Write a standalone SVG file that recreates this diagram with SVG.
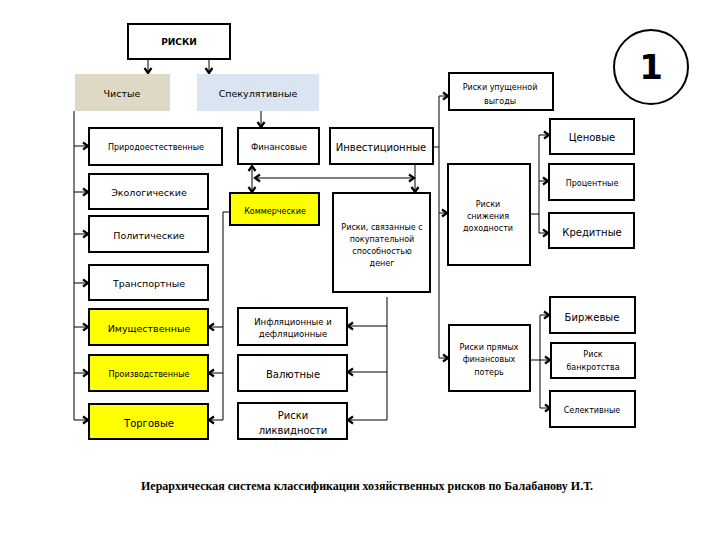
<svg xmlns="http://www.w3.org/2000/svg" width="720" height="540" viewBox="0 0 720 540">
<style>
.b{fill:#fff;stroke:#000;stroke-width:2}
.y{fill:#ffff00;stroke:#000;stroke-width:2}
text{font-family:"DejaVu Sans","Verdana",sans-serif;font-weight:normal;fill:#000;text-anchor:middle;dominant-baseline:central}
text.bd{font-weight:bold}
text.t{font-family:"Liberation Serif","Times New Roman",serif;font-weight:bold}
.c line,.c polyline{stroke:#000;stroke-width:1;fill:none}
.a{marker-end:url(#ah)}
.s{marker-start:url(#ah2)}
</style>
<defs>
<marker id="ah" markerWidth="10" markerHeight="10" refX="8" refY="5" orient="auto" markerUnits="userSpaceOnUse"><path d="M3,1.5 L8,5 L3,8.5" fill="none" stroke="#000" stroke-width="2.2"/></marker>
<marker id="ah2" markerWidth="10" markerHeight="10" refX="2" refY="5" orient="auto" markerUnits="userSpaceOnUse"><path d="M7,1.5 L2,5 L7,8.5" fill="none" stroke="#000" stroke-width="2.2"/></marker>
</defs>
<rect width="720" height="540" fill="#fff"/>

<g class="c" id="connectors">
<line class="a" x1="148" y1="59" x2="148" y2="73"/>
<line class="a" x1="209" y1="59" x2="209" y2="73"/>
<line class="a" x1="261" y1="111" x2="261" y2="127"/>
<line x1="74" y1="111" x2="74" y2="420"/>
<line class="a" x1="74" y1="146" x2="88" y2="146"/>
<line class="a" x1="74" y1="192" x2="88" y2="192"/>
<line class="a" x1="74" y1="234" x2="88" y2="234"/>
<line class="a" x1="74" y1="283" x2="88" y2="283"/>
<line class="a" x1="74" y1="327" x2="88" y2="327"/>
<line class="a" x1="74" y1="373" x2="88" y2="373"/>
<line class="a" x1="74" y1="420" x2="88" y2="420"/>
<line class="a s" x1="252" y1="166" x2="252" y2="192"/>
<line class="a s" x1="255" y1="178" x2="414" y2="178"/>
<line class="a" x1="415" y1="164" x2="415" y2="192"/>
<polyline points="230,212 223,212 223,420"/>
<line class="a" x1="223" y1="327" x2="209" y2="327"/>
<line class="a" x1="223" y1="373" x2="209" y2="373"/>
<line class="a" x1="223" y1="420" x2="209" y2="420"/>
<line x1="387" y1="297" x2="387" y2="420"/>
<line class="a" x1="387" y1="326" x2="348" y2="326"/>
<line class="a" x1="387" y1="372" x2="348" y2="372"/>
<line class="a" x1="387" y1="420" x2="348" y2="420"/>
<line x1="433" y1="147" x2="439" y2="147"/>
<line x1="439" y1="96" x2="439" y2="358"/>
<line class="a" x1="439" y1="96" x2="448" y2="96"/>
<line class="a" x1="439" y1="213" x2="447" y2="213"/>
<line class="a" x1="439" y1="358" x2="448" y2="358"/>
<line x1="530" y1="214" x2="539" y2="214"/>
<line x1="539" y1="135" x2="539" y2="233"/>
<line class="a" x1="539" y1="135" x2="549" y2="135"/>
<line class="a" x1="539" y1="181" x2="548" y2="181"/>
<line class="a" x1="539" y1="233" x2="548" y2="233"/>
<line x1="530" y1="360" x2="540" y2="360"/>
<line x1="540" y1="315" x2="540" y2="408"/>
<line class="a" x1="540" y1="315" x2="549" y2="315"/>
<line class="a" x1="540" y1="360" x2="550" y2="360"/>
<line class="a" x1="540" y1="408" x2="550" y2="408"/>
</g>

<g id="n-riski"><rect class="b" x="128" y="24" width="102" height="35"/><text class="bd" x="179" y="42" font-size="9">РИСКИ</text></g>
<g id="n-chistye"><rect x="75" y="74" width="95" height="37" fill="#ddd9c4"/><text x="122" y="93" font-size="9.5">Чистые</text></g>
<g id="n-spek"><rect x="197" y="74" width="122" height="37" fill="#dbe5f1"/><text x="258" y="93" font-size="9.5">Спекулятивные</text></g>

<g id="n-prirod"><rect class="b" x="89" y="128" width="133" height="37"/><text x="156" y="147" font-size="8">Природоестественные</text></g>
<g id="n-ekolog"><rect class="b" x="89" y="174" width="119" height="35"/><text x="149" y="192" font-size="9.5">Экологические</text></g>
<g id="n-polit"><rect class="b" x="89" y="216" width="119" height="36"/><text x="149" y="235" font-size="9.5">Политические</text></g>
<g id="n-transp"><rect class="b" x="89" y="265" width="119" height="35"/><text x="149" y="283" font-size="9.5">Транспортные</text></g>
<g id="n-imush"><rect class="y" x="89" y="309" width="119" height="36"/><text x="149" y="328" font-size="9.5">Имущественные</text></g>
<g id="n-proizv"><rect class="y" x="89" y="355" width="119" height="36"/><text x="149" y="374" font-size="8">Производственные</text></g>
<g id="n-torg"><rect class="y" x="89" y="404" width="119" height="35"/><text x="149" y="423" font-size="10">Торговые</text></g>

<g id="n-fin"><rect class="b" x="238" y="128" width="81" height="36"/><text x="279" y="147" font-size="8.5">Финансовые</text></g>
<g id="n-invest"><rect class="b" x="330" y="128" width="103" height="36"/><text x="381" y="147" font-size="10">Инвестиционные</text></g>
<g id="n-komm"><rect class="y" x="230" y="193" width="89" height="32"/><text x="275" y="211" font-size="8">Коммерческие</text></g>
<g id="n-pokup"><rect class="b" x="333" y="193" width="97" height="99"/>
<text x="382" y="227" font-size="8">Риски, связанные с</text><text x="382" y="239" font-size="8">покупательной</text><text x="382" y="251" font-size="8">способностью</text><text x="382" y="263" font-size="8">денег</text></g>
<g id="n-infl"><rect class="b" x="238" y="308" width="109" height="37"/><text x="293" y="322" font-size="8.5">Инфляционные и</text><text x="293" y="334" font-size="8.5">дефляционные</text></g>
<g id="n-valut"><rect class="b" x="238" y="355" width="109" height="36"/><text x="293" y="374" font-size="10">Валютные</text></g>
<g id="n-likv"><rect class="b" x="238" y="403" width="109" height="36"/><text x="293" y="415" font-size="10">Риски</text><text x="293" y="430" font-size="10">ликвидности</text></g>

<g id="n-upush"><rect class="b" x="449" y="73" width="104" height="37"/><text x="500" y="87" font-size="8">Риски упущенной</text><text x="500" y="101" font-size="8">выгоды</text></g>
<g id="n-snizh"><rect class="b" x="448" y="164" width="82" height="101"/><text x="488" y="204" font-size="8">Риски</text><text x="488" y="216" font-size="8">снижения</text><text x="488" y="228" font-size="8">доходности</text></g>
<g id="n-pryam"><rect class="b" x="449" y="325" width="81" height="66"/><text x="489" y="347" font-size="8">Риски прямых</text><text x="489" y="359" font-size="8">финансовых</text><text x="489" y="372" font-size="8">потерь</text></g>

<g id="n-cen"><rect class="b" x="550" y="119" width="84" height="35"/><text x="592" y="137" font-size="10">Ценовые</text></g>
<g id="n-proc"><rect class="b" x="549" y="164" width="85" height="36"/><text x="592" y="183" font-size="8">Процентные</text></g>
<g id="n-kred"><rect class="b" x="549" y="213" width="85" height="35"/><text x="592" y="232" font-size="10">Кредитные</text></g>
<g id="n-birzh"><rect class="b" x="550" y="297" width="85" height="36"/><text x="592" y="317" font-size="10">Биржевые</text></g>
<g id="n-bankr"><rect class="b" x="551" y="343" width="84" height="35"/><text x="593" y="354" font-size="8">Риск</text><text x="593" y="367" font-size="8">банкротства</text></g>
<g id="n-selekt"><rect class="b" x="550" y="391" width="85" height="36"/><text x="592" y="410" font-size="8">Селективные</text></g>

<g id="badge"><circle cx="651" cy="67" r="37" fill="#fff" stroke="#000" stroke-width="2"/><text class="bd" x="651" y="67" font-size="34">1</text></g>

<text class="t" x="367" y="486" font-size="11.5" textLength="452" lengthAdjust="spacingAndGlyphs">Иерархическая система классификации хозяйственных рисков по Балабанову И.Т.</text>
</svg>
